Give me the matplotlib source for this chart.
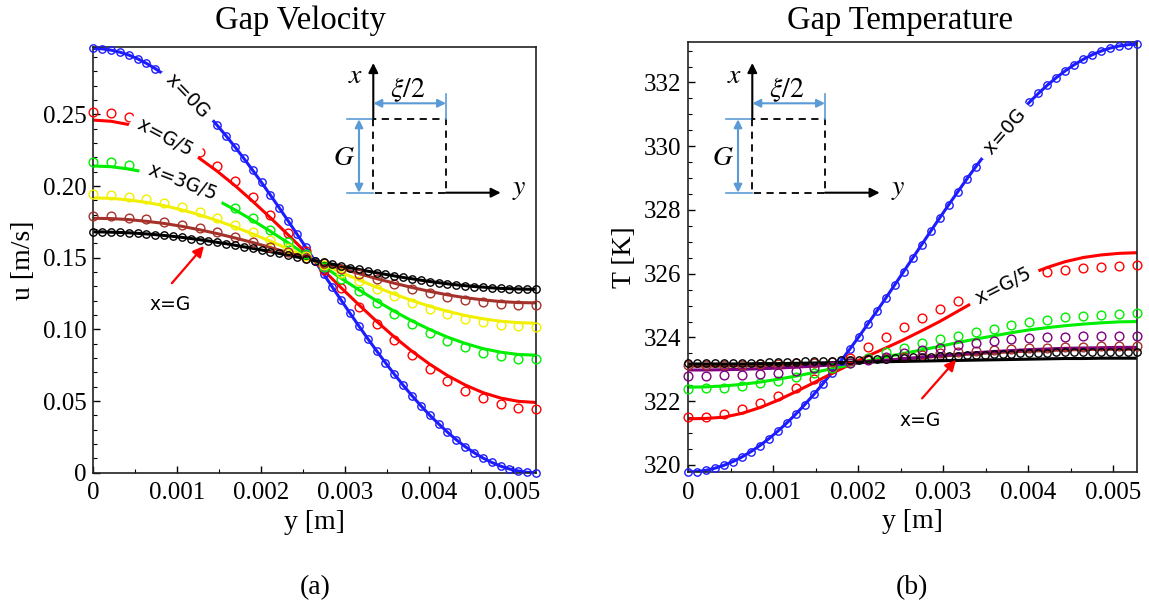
import numpy as np
import matplotlib
matplotlib.use("Agg")
import matplotlib.pyplot as plt
from matplotlib.ticker import MultipleLocator

plt.rcParams['font.family'] = ['Liberation Serif', 'DejaVu Serif']
plt.rcParams['mathtext.fontset'] = 'stix'

# ---------------------------------------------------------------- data
GAP_HALF = 0.00528                       # half gap width xi/2 [m]
y_coarse = np.linspace(0, GAP_HALF, 26)  # sampling positions across the gap
y_fine = np.linspace(0, GAP_HALF, 51)

x_ticks = [0, 0.001, 0.002, 0.003, 0.004, 0.005]
x_tick_labels = ['0', '0.001', '0.002', '0.003', '0.004', '0.005']
u_ticks = [0, 0.05, 0.10, 0.15, 0.20, 0.25]
u_tick_labels = ['0', '0.05', '0.10', '0.15', '0.20', '0.25']
T_ticks = [320, 322, 324, 326, 328, 330, 332]
T_tick_labels = ['320', '322', '324', '326', '328', '330', '332']

# gap velocity u [m/s]
u_x0 = [0.2960, 0.2957, 0.2948, 0.2934, 0.2914, 0.2888, 0.2856, 0.2819, 0.2777, 0.2730,
        0.2677, 0.2620, 0.2559, 0.2493, 0.2423, 0.2350, 0.2273, 0.2193, 0.2110, 0.2025,
        0.1937, 0.1848, 0.1757, 0.1665, 0.1573, 0.1480, 0.1387, 0.1295, 0.1203, 0.1112,
        0.1023, 0.0935, 0.0850, 0.0767, 0.0687, 0.0610, 0.0537, 0.0467, 0.0401, 0.0341,
        0.0283, 0.0230, 0.0182, 0.0140, 0.0103, 0.0072, 0.0046, 0.0026, 0.0012, 0.0003,
        0.0000]
u_g5_line = [0.2460, 0.2452, 0.2429, 0.2391, 0.2338, 0.2272, 0.2193, 0.2103, 0.2003, 0.1894,
             0.1779, 0.1660, 0.1537, 0.1413, 0.1290, 0.1171, 0.1056, 0.0947, 0.0847, 0.0757,
             0.0678, 0.0612, 0.0559, 0.0521, 0.0498, 0.0490]
u_g5_pts = [0.2515, 0.2507, 0.2483, 0.2442, 0.2387, 0.2317, 0.2235, 0.2140, 0.2035, 0.1921,
            0.1800, 0.1674, 0.1545, 0.1415, 0.1286, 0.1159, 0.1039, 0.0925, 0.0820, 0.0725,
            0.0643, 0.0573, 0.0518, 0.0478, 0.0455, 0.0445]
u_3g5_line = [0.2140, 0.2135, 0.2119, 0.2094, 0.2058, 0.2014, 0.1961, 0.1901, 0.1834, 0.1761,
              0.1684, 0.1604, 0.1521, 0.1439, 0.1356, 0.1276, 0.1199, 0.1126, 0.1059, 0.0999,
              0.0946, 0.0902, 0.0866, 0.0841, 0.0825, 0.0820]
u_3g5_pts = [0.2170, 0.2165, 0.2148, 0.2122, 0.2085, 0.2038, 0.1983, 0.1920, 0.1850, 0.1774,
             0.1693, 0.1609, 0.1523, 0.1437, 0.1351, 0.1267, 0.1186, 0.1110, 0.1040, 0.0977,
             0.0922, 0.0875, 0.0838, 0.0812, 0.0795, 0.0790]
u_4g5_line = [0.1917, 0.1914, 0.1903, 0.1886, 0.1863, 0.1834, 0.1799, 0.1759, 0.1714, 0.1666,
              0.1615, 0.1562, 0.1507, 0.1453, 0.1398, 0.1345, 0.1294, 0.1246, 0.1201, 0.1161,
              0.1126, 0.1097, 0.1074, 0.1057, 0.1047, 0.1043]
u_4g5_pts = [0.1942, 0.1938, 0.1927, 0.1910, 0.1885, 0.1854, 0.1817, 0.1774, 0.1728, 0.1677,
             0.1623, 0.1567, 0.1509, 0.1451, 0.1393, 0.1337, 0.1283, 0.1232, 0.1186, 0.1143,
             0.1106, 0.1075, 0.1051, 0.1033, 0.1022, 0.1018]
u_9g10_line = [0.1775, 0.1773, 0.1766, 0.1754, 0.1739, 0.1719, 0.1695, 0.1668, 0.1638, 0.1606,
               0.1571, 0.1535, 0.1499, 0.1461, 0.1425, 0.1389, 0.1354, 0.1322, 0.1292, 0.1265,
               0.1241, 0.1221, 0.1206, 0.1194, 0.1187, 0.1185]
u_9g10_pts = [0.1790, 0.1788, 0.1780, 0.1768, 0.1752, 0.1731, 0.1706, 0.1678, 0.1646, 0.1612,
              0.1576, 0.1538, 0.1499, 0.1461, 0.1422, 0.1384, 0.1348, 0.1314, 0.1283, 0.1254,
              0.1229, 0.1208, 0.1192, 0.1180, 0.1172, 0.1170]
u_g = [0.1680, 0.1680, 0.1678, 0.1676, 0.1674, 0.1670, 0.1666, 0.1661, 0.1655, 0.1649,
       0.1642, 0.1634, 0.1626, 0.1617, 0.1607, 0.1598, 0.1587, 0.1576, 0.1565, 0.1554,
       0.1542, 0.1530, 0.1517, 0.1505, 0.1493, 0.1480, 0.1467, 0.1455, 0.1443, 0.1430,
       0.1418, 0.1406, 0.1395, 0.1384, 0.1373, 0.1362, 0.1353, 0.1343, 0.1334, 0.1326,
       0.1318, 0.1311, 0.1305, 0.1299, 0.1295, 0.1290, 0.1286, 0.1284, 0.1282, 0.1280,
       0.1280]

# gap temperature T [K]
T_x0 = [319.780, 319.793, 319.833, 319.899, 319.991, 320.108, 320.251, 320.419, 320.610, 320.825,
        321.062, 321.320, 321.598, 321.897, 322.213, 322.546, 322.895, 323.257, 323.633, 324.020,
        324.417, 324.821, 325.233, 325.649, 326.069, 326.490, 326.911, 327.331, 327.747, 328.159,
        328.563, 328.960, 329.347, 329.723, 330.085, 330.434, 330.767, 331.083, 331.382, 331.660,
        331.918, 332.155, 332.370, 332.561, 332.729, 332.872, 332.989, 333.081, 333.147, 333.187,
        333.200]
T_g5_line = [321.45, 321.46, 321.50, 321.62, 321.80, 322.03, 322.30, 322.58, 322.87, 323.15,
             323.42, 323.67, 323.93, 324.21, 324.50, 324.82, 325.14, 325.45, 325.73, 325.98,
             326.20, 326.38, 326.51, 326.59, 326.64, 326.66]
T_g5_pts = [321.50, 321.52, 321.60, 321.76, 321.95, 322.17, 322.43, 322.70, 323.02, 323.35,
            323.69, 324.02, 324.34, 324.62, 324.90, 325.16, 325.40, 325.61, 325.79, 325.94,
            326.05, 326.12, 326.18, 326.22, 326.25, 326.28]
T_3g5_line = [322.44, 322.45, 322.48, 322.53, 322.60, 322.69, 322.79, 322.90, 323.02, 323.14,
              323.27, 323.39, 323.50, 323.61, 323.72, 323.84, 323.95, 324.05, 324.15, 324.24,
              324.31, 324.37, 324.42, 324.46, 324.49, 324.50]
T_3g5_pts = [322.38, 322.40, 322.43, 322.49, 322.56, 322.65, 322.76, 322.89, 323.04, 323.20,
             323.37, 323.53, 323.68, 323.82, 323.94, 324.05, 324.17, 324.28, 324.39, 324.48,
             324.56, 324.63, 324.68, 324.72, 324.75, 324.76]
T_4g5_line = [322.98, 322.98, 322.99, 323.00, 323.02, 323.04, 323.07, 323.10, 323.14, 323.18,
              323.23, 323.28, 323.33, 323.38, 323.43, 323.48, 323.52, 323.56, 323.59, 323.62,
              323.64, 323.66, 323.67, 323.68, 323.69, 323.69]
T_4g5_pts = [322.80, 322.80, 322.81, 322.83, 322.86, 322.90, 322.96, 323.03, 323.11, 323.20,
             323.30, 323.40, 323.50, 323.60, 323.68, 323.76, 323.83, 323.89, 323.94, 323.98,
             324.01, 324.03, 324.05, 324.06, 324.06, 324.06]
T_9g10_line = [323.10, 323.10, 323.10, 323.11, 323.12, 323.13, 323.15, 323.17, 323.19, 323.22,
               323.25, 323.29, 323.33, 323.37, 323.41, 323.45, 323.49, 323.52, 323.55, 323.57,
               323.59, 323.61, 323.62, 323.63, 323.63, 323.63]
T_9g10_pts = [323.14, 323.14, 323.14, 323.15, 323.16, 323.17, 323.19, 323.21, 323.24, 323.27,
              323.31, 323.35, 323.40, 323.45, 323.50, 323.54, 323.58, 323.61, 323.64, 323.66,
              323.68, 323.70, 323.71, 323.72, 323.72, 323.72]
T_g_line = [323.17, 323.17, 323.17, 323.17, 323.18, 323.18, 323.19, 323.20, 323.21, 323.22,
            323.23, 323.24, 323.25, 323.26, 323.27, 323.28, 323.29, 323.30, 323.31, 323.32,
            323.33, 323.34, 323.34, 323.35, 323.35, 323.35]
T_g_pts = [323.190, 323.190, 323.191, 323.193, 323.196, 323.199, 323.203, 323.208, 323.213, 323.219,
           323.225, 323.232, 323.240, 323.248, 323.257, 323.266, 323.276, 323.286, 323.296, 323.307,
           323.318, 323.329, 323.340, 323.352, 323.363, 323.375, 323.387, 323.398, 323.410, 323.421,
           323.432, 323.443, 323.454, 323.464, 323.474, 323.484, 323.493, 323.502, 323.510, 323.518,
           323.525, 323.531, 323.537, 323.542, 323.547, 323.551, 323.554, 323.557, 323.559, 323.560,
           323.560]

BLUE, RED, GREEN, YELLOW = '#1c1cff', '#ff0000', '#00ee00', '#f0f000'
BROWN, PURPLE, BLACK = '#a5322a', '#800080', '#000000'
DIM = '#5b9bd5'

# ---------------------------------------------------------------- figure
fig = plt.figure(figsize=(11.49, 6.08), dpi=100)
axL = fig.add_axes([0.0812, 0.2225, 0.3853, 0.7002])
axR = fig.add_axes([0.5988, 0.2237, 0.3910, 0.7072])


def series(ax, yl, vl, yp, vp, color, ms):
    ax.plot(yl, vl, color=color, lw=2.2, zorder=2, solid_capstyle='butt')
    ax.plot(yp, vp, ls='none', marker='o', mfc='none', mec=color, ms=ms,
            mew=1.0, zorder=3, clip_on=False)


# velocity
series(axL, y_fine, u_x0, y_fine, u_x0, BLUE, 5.3)
series(axL, y_coarse, u_g5_line, y_coarse, u_g5_pts, RED, 6.3)
series(axL, y_coarse, u_3g5_line, y_coarse, u_3g5_pts, GREEN, 6.3)
series(axL, y_coarse, u_4g5_line, y_coarse, u_4g5_pts, YELLOW, 6.3)
series(axL, y_coarse, u_9g10_line, y_coarse, u_9g10_pts, BROWN, 6.3)
series(axL, y_fine, u_g, y_fine, u_g, BLACK, 5.3)

# temperature
series(axR, y_fine, T_x0, y_fine, T_x0, BLUE, 5.3)
series(axR, y_coarse, T_g5_line, y_coarse, T_g5_pts, RED, 6.3)
series(axR, y_coarse, T_3g5_line, y_coarse, T_3g5_pts, GREEN, 6.3)
series(axR, y_coarse, T_9g10_line, y_coarse, T_9g10_pts, BROWN, 6.3)
series(axR, y_coarse, T_4g5_line, y_coarse, T_4g5_pts, PURPLE, 6.3)
series(axR, y_coarse, T_g_line, y_fine, T_g_pts, BLACK, 5.3)

# ---------------------------------------------------------------- axes styling
for ax in (axL, axR):
    ax.set_xlim(0, GAP_HALF)
    ax.set_xticks(x_ticks)
    ax.set_xticklabels(x_tick_labels)
    ax.xaxis.set_minor_locator(MultipleLocator(0.0005))
    ax.tick_params(which='both', direction='in', top=False, right=False, labelsize=18)
    ax.tick_params(which='major', length=5, width=1.0)
    ax.tick_params(which='minor', length=3, width=0.8)
    ax.tick_params(axis='x', pad=7)
    ax.tick_params(axis='y', pad=5)
    for sp in ax.spines.values():
        sp.set_linewidth(1.2)
        sp.set_color('#222222')
    ax.set_xlabel('y [m]', fontsize=20, labelpad=4)

axL.set_ylim(0, 0.297)
axL.set_yticks(u_ticks)
axL.set_yticklabels(u_tick_labels)
axL.yaxis.set_minor_locator(MultipleLocator(0.01))
axL.set_ylabel('u [m/s]', fontsize=20, labelpad=5)

axR.set_ylim(319.78, 333.27)
axR.set_yticks(T_ticks)
axR.set_yticklabels(T_tick_labels)
axR.yaxis.set_minor_locator(MultipleLocator(0.5))
axR.set_ylabel('T [K]', fontsize=20, labelpad=5)

fig.text(300 / 1149, 1 - 21 / 608, 'Gap Velocity', fontsize=23.5, ha='center', va='center')
fig.text(900 / 1149, 1 - 21 / 608, 'Gap Temperature', fontsize=23.5, ha='center', va='center')
fig.text(315 / 1149, 1 - 588 / 608, '(a)', fontsize=20, ha='center', va='center')
fig.text(912 / 1149, 1 - 588 / 608, '(b)', fontsize=20, ha='center', va='center')

# ---------------------------------------------------------------- inline curve labels
box = dict(boxstyle='square,pad=0.12', fc='white', ec='none')


def curve_label(ax, x, y, s, rot):
    ax.text(x, y, ' ' + s + ' ', rotation=rot, rotation_mode='anchor', ha='center',
            va='center', fontsize=13.5, family='DejaVu Sans', bbox=box, zorder=5)


curve_label(axL, 0.00113, 0.2630, 'x=0G', -46)
curve_label(axL, 0.00086, 0.2340, 'x=G/5', -28)
curve_label(axL, 0.00106, 0.2025, 'x=3G/5', -21)
curve_label(axR, 0.00373, 330.45, 'x=0G', 49)
curve_label(axR, 0.00371, 325.60, 'x=G/5', 27)

arrow_red = dict(arrowstyle='-|>', color=RED, lw=1.6, mutation_scale=16, shrinkA=0, shrinkB=0)
axL.annotate('', xy=(0.00132, 0.1582), xytext=(0.000937, 0.1322), arrowprops=arrow_red, zorder=6)
axL.text(0.000916, 0.1177, 'x=G', fontsize=13.5, family='DejaVu Sans', ha='center', va='center')
axR.annotate('', xy=(0.00315, 323.30), xytext=(0.002751, 322.09), arrowprops=arrow_red, zorder=6)
axR.text(0.002728, 321.41, 'x=G', fontsize=13.5, family='DejaVu Sans', ha='center', va='center')

# ---------------------------------------------------------------- gap schematic
ov = fig.add_axes([0, 0, 1, 1])
ov.set_xlim(0, 1149)
ov.set_ylim(608, 0)
ov.axis('off')
ov.set_zorder(10)


def schematic(x0, y0):
    w, h = 72.7, 73.4
    ov.plot([x0, x0, x0 + w, x0 + w, x0], [y0 - h, y0, y0, y0 - h, y0 - h],
            color='k', lw=1.3, ls=(0, (4, 3)))
    solid = dict(arrowstyle='-|>', color='k', lw=1.5, mutation_scale=14, shrinkA=0, shrinkB=0)
    ov.annotate('', xy=(x0, y0 - 129.7), xytext=(x0, y0 - h), arrowprops=solid)
    ov.annotate('', xy=(x0 + 127.4, y0), xytext=(x0 + w, y0), arrowprops=solid)
    dim = dict(arrowstyle='<|-|>', color=DIM, lw=1.5, mutation_scale=12, shrinkA=0, shrinkB=0)
    ov.annotate('', xy=(x0 + w, y0 - 89.4), xytext=(x0, y0 - 89.4), arrowprops=dim)
    ov.plot([x0 + w, x0 + w], [y0 - 98.7, y0 - h], color=DIM, lw=1.2)
    ov.annotate('', xy=(x0 - 14.3, y0), xytext=(x0 - 14.3, y0 - h), arrowprops=dim)
    ov.plot([x0 - 26, x0], [y0 - h, y0 - h], color=DIM, lw=1.2)
    ov.plot([x0 - 26, x0], [y0, y0], color=DIM, lw=1.2)
    kw = dict(fontsize=20, ha='center', va='center')
    ov.text(x0 - 17.6, y0 - 116, '$x$', **kw)
    ov.text(x0 + 34.7, y0 - 102.7, r'$\xi/2$', **kw)
    ov.text(x0 - 29, y0 - 34.4, '$G$', **kw)
    ov.text(x0 + 146, y0 - 3.4, '$y$', **kw)


schematic(373.3, 192.7)
schematic(752.3, 192.7)

fig.savefig('out.png', dpi=100)
